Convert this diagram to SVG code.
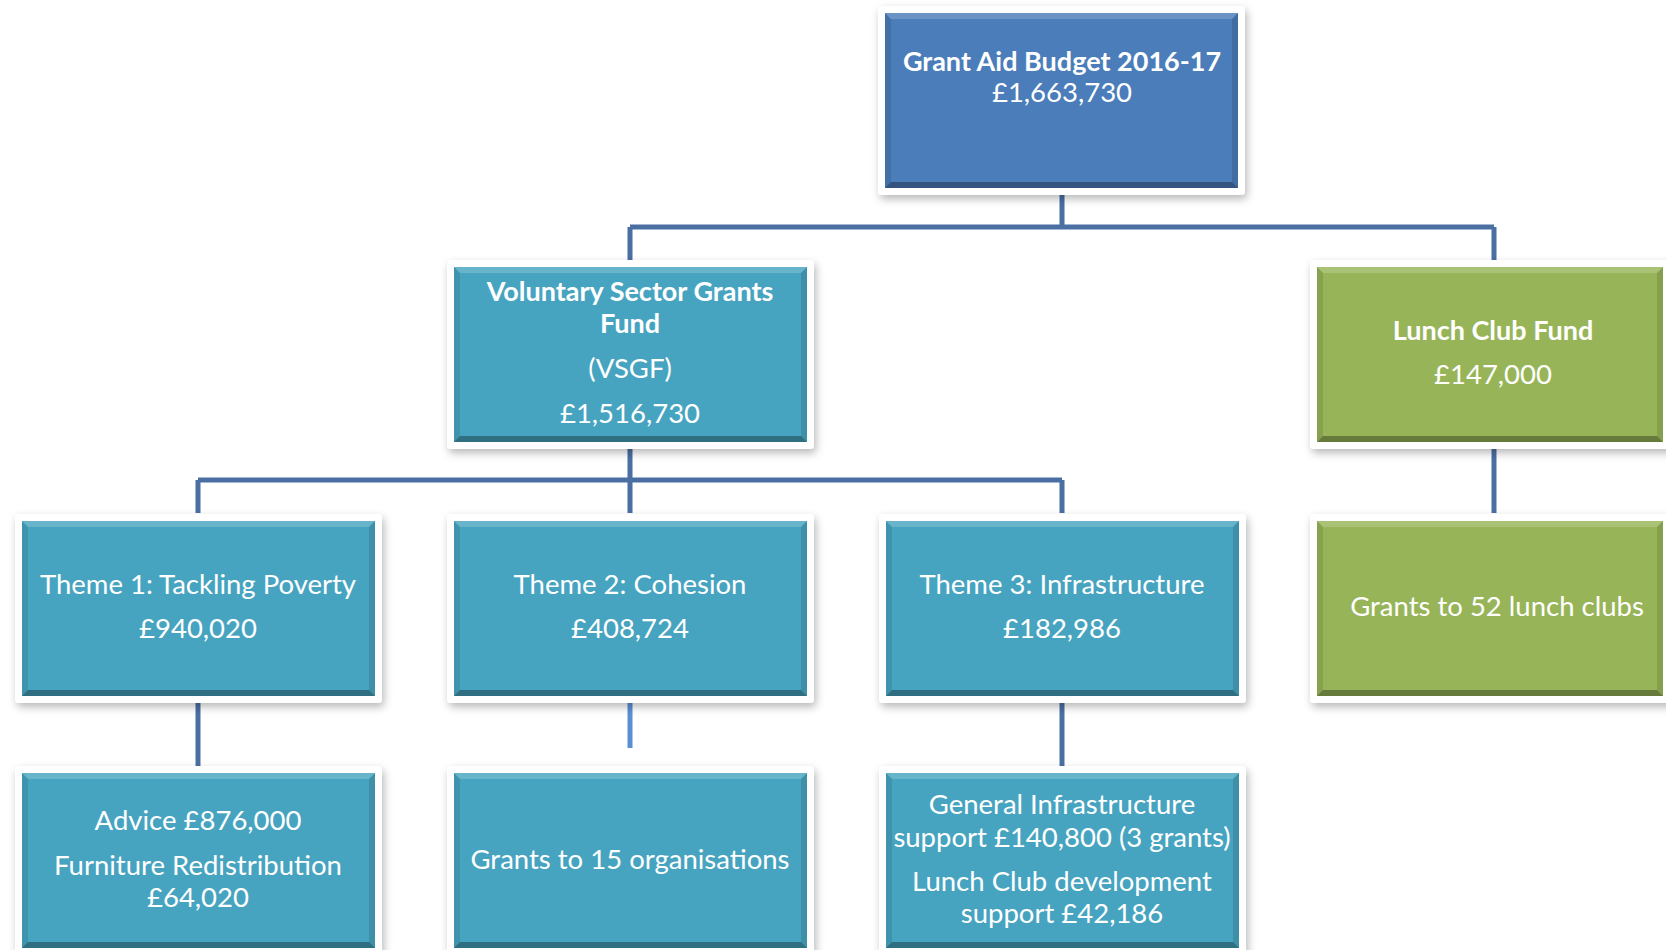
<svg xmlns="http://www.w3.org/2000/svg" xmlns:xlink="http://www.w3.org/1999/xlink" width="1666" height="950" viewBox="0 0 1666 950">
  <style>
    .frame { fill: #ffffff; filter: url(#shadow); }
    .blue { fill: #4a7dba; }
    .teal { fill: #47a4c0; }
    .green { fill: #97b558; }
    .lbl { font-family: Lato, "Liberation Sans", sans-serif; font-size: 27.5px; fill: #ffffff; text-anchor: middle; }
    .bold { font-weight: bold; font-size: 27px; }
    .link { stroke: #4a6fa3; stroke-width: 5; fill: none; }
    .link-light { stroke: #5b8fd4; stroke-width: 5; fill: none; }
  </style>
  <defs>
    <filter id="shadow" x="-10%" y="-10%" width="125%" height="130%">
      <feDropShadow dx="2" dy="4" stdDeviation="4" flood-color="#000000" flood-opacity="0.28"/>
    </filter>
    <!-- bevel overlay for a 353 x 175 box -->
    <g id="bevel353">
      <polygon points="0,0 353,0 347,6 6,6" fill="#ffffff" fill-opacity="0.18"/>
      <polygon points="0,0 6,6 6,169 0,175" fill="#000000" fill-opacity="0.10"/>
      <polygon points="353,0 353,175 347,169 347,6" fill="#000000" fill-opacity="0.12"/>
      <polygon points="0,175 6,169 347,169 353,175" fill="#000000" fill-opacity="0.32"/>
    </g>
    <!-- bevel overlay for a 346 x 175 box -->
    <g id="bevel346">
      <polygon points="0,0 346,0 340,6 6,6" fill="#ffffff" fill-opacity="0.18"/>
      <polygon points="0,0 6,6 6,169 0,175" fill="#000000" fill-opacity="0.10"/>
      <polygon points="346,0 346,175 340,169 340,6" fill="#000000" fill-opacity="0.12"/>
      <polygon points="0,175 6,169 340,169 346,175" fill="#000000" fill-opacity="0.32"/>
    </g>
  </defs>

  <rect width="1666" height="950" fill="#ffffff"/>

  <!-- connectors -->
  <g id="connectors">
    <path class="link" d="M1062,194 V227 M630,227 H1494 M630,227 V260 M1494,227 V260"/>
    <path class="link" d="M630,448 V513 M198,480 H1062 M198,480 V513 M1062,480 V513"/>
    <path class="link" d="M1494,448 V513"/>
    <path class="link" d="M198,702 V766"/>
    <path class="link-light" d="M630,702 V748"/>
    <path class="link" d="M1062,702 V766"/>
  </g>

  <!-- top level -->
  <g id="grant-aid-budget">
    <rect class="frame" x="878" y="6" width="367" height="189" rx="4"/>
    <rect class="blue" x="885" y="13" width="353" height="175"/>
    <use xlink:href="#bevel353" x="885" y="13"/>
    <text class="lbl bold" x="1062" y="71">Grant Aid Budget 2016-17</text>
    <text class="lbl" x="1062" y="102">£1,663,730</text>
  </g>

  <!-- second level -->
  <g id="vsgf">
    <rect class="frame" x="447" y="260" width="367" height="189" rx="4"/>
    <rect class="teal" x="454" y="267" width="353" height="175"/>
    <use xlink:href="#bevel353" x="454" y="267"/>
    <text class="lbl bold" x="630" y="301">Voluntary Sector Grants</text>
    <text class="lbl bold" x="630" y="333">Fund</text>
    <text class="lbl" x="630" y="378">(VSGF)</text>
    <text class="lbl" x="630" y="423">£1,516,730</text>
  </g>

  <g id="lunch-club-fund">
    <rect class="frame" x="1310" y="260" width="367" height="189" rx="4"/>
    <rect class="green" x="1317" y="267" width="346" height="175"/>
    <use xlink:href="#bevel346" x="1317" y="267"/>
    <text class="lbl bold" x="1493" y="340">Lunch Club Fund</text>
    <text class="lbl" x="1493" y="384">£147,000</text>
  </g>

  <!-- themes -->
  <g id="theme-1">
    <rect class="frame" x="15" y="514" width="367" height="189" rx="4"/>
    <rect class="teal" x="22" y="521" width="353" height="175"/>
    <use xlink:href="#bevel353" x="22" y="521"/>
    <text class="lbl" x="198" y="594">Theme 1: Tackling Poverty</text>
    <text class="lbl" x="198" y="638">£940,020</text>
  </g>

  <g id="theme-2">
    <rect class="frame" x="447" y="514" width="367" height="189" rx="4"/>
    <rect class="teal" x="454" y="521" width="353" height="175"/>
    <use xlink:href="#bevel353" x="454" y="521"/>
    <text class="lbl" x="630" y="594">Theme 2: Cohesion</text>
    <text class="lbl" x="630" y="638">£408,724</text>
  </g>

  <g id="theme-3">
    <rect class="frame" x="879" y="514" width="367" height="189" rx="4"/>
    <rect class="teal" x="886" y="521" width="353" height="175"/>
    <use xlink:href="#bevel353" x="886" y="521"/>
    <text class="lbl" x="1062" y="594">Theme 3: Infrastructure</text>
    <text class="lbl" x="1062" y="638">£182,986</text>
  </g>

  <g id="lunch-clubs">
    <rect class="frame" x="1310" y="514" width="367" height="189" rx="4"/>
    <rect class="green" x="1317" y="521" width="346" height="175"/>
    <use xlink:href="#bevel346" x="1317" y="521"/>
    <text class="lbl" x="1497" y="616">Grants to 52 lunch clubs</text>
  </g>

  <!-- bottom level -->
  <g id="poverty-grants">
    <rect class="frame" x="15" y="766" width="367" height="189" rx="4"/>
    <rect class="teal" x="22" y="773" width="353" height="175"/>
    <use xlink:href="#bevel353" x="22" y="773"/>
    <text class="lbl" x="198" y="830">Advice £876,000</text>
    <text class="lbl" x="198" y="875">Furniture Redistribution</text>
    <text class="lbl" x="198" y="907">£64,020</text>
  </g>

  <g id="cohesion-grants">
    <rect class="frame" x="447" y="766" width="367" height="189" rx="4"/>
    <rect class="teal" x="454" y="773" width="353" height="175"/>
    <use xlink:href="#bevel353" x="454" y="773"/>
    <text class="lbl" x="630" y="869">Grants to 15 organisations</text>
  </g>

  <g id="infrastructure-grants">
    <rect class="frame" x="879" y="766" width="367" height="189" rx="4"/>
    <rect class="teal" x="886" y="773" width="353" height="175"/>
    <use xlink:href="#bevel353" x="886" y="773"/>
    <text class="lbl" x="1062" y="814">General Infrastructure</text>
    <text class="lbl" x="1062" y="847">support £140,800 (3 grants)</text>
    <text class="lbl" x="1062" y="891">Lunch Club development</text>
    <text class="lbl" x="1062" y="923">support £42,186</text>
  </g>
</svg>
